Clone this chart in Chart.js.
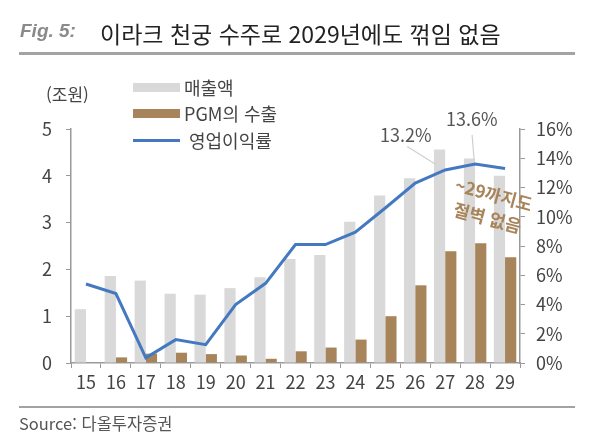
<!DOCTYPE html>
<html lang="ko">
<head>
  <meta charset="UTF-8">
  <title>이라크 천궁 수주로 2029년에도 꺾임 없음</title>
  <script src="https://cdn.jsdelivr.net/npm/chart.js"></script>
  <style>
    body { margin: 0; background: #fff; font-family: "Noto Sans CJK KR", "Noto Sans", sans-serif; color: #444; }
    #wrap { position: relative; width: 600px; height: 443px; overflow: hidden; }
    #grafico { position: absolute; left: 0; top: 0; }
    .txt { position: absolute; white-space: nowrap; }
    #fig { left: 20px; top: 20px; font-family: "Liberation Sans", Arial, sans-serif; font-style: italic; font-weight: bold; font-size: 19px; color: #8a8a8a; }
    #titulo { left: 100px; top: 16px; font-size: 23px; color: #222; }
    #regla1 { position: absolute; left: 19px; top: 52px; width: 556px; height: 3px; background: #a3a3a3; }
    #regla2 { position: absolute; left: 19px; top: 406px; width: 556px; height: 2px; background: #a3a3a3; }
    #fuente { left: 19px; top: 411px; font-size: 16.5px; color: #555; }
    #unidad { left: 46px; top: 81px; font-size: 17px; color: #444; }
    .ley { position: absolute; font-size: 18px; color: #444; }
    .caja { position: absolute; width: 47px; height: 9px; }
    .etq { position: absolute; font-size: 18px; color: #555; }
    #nota { left: 451px; top: 182px; font-size: 17.5px; font-weight: bold; color: #a8845a; line-height: 24px; text-align: center; transform: rotate(15deg); transform-origin: center; }
  </style>
</head>
<body>
<div id="wrap">
  <canvas id="grafico" width="600" height="443"></canvas>

  <div class="txt" id="fig">Fig. 5:</div>
  <div class="txt" id="titulo">이라크 천궁 수주로 2029년에도 꺾임 없음</div>
  <div id="regla1"></div>

  <div class="txt" id="unidad">(조원)</div>

  <!-- leyenda -->
  <div class="caja" style="left:133px; top:83px; background:#d9d9d9;"></div>
  <div class="ley txt" style="left:184px; top:74px;">매출액</div>
  <div class="caja" style="left:133px; top:109px; background:#a8845a;"></div>
  <div class="ley txt" style="left:184px; top:100px;">PGM의 수출</div>
  <div class="caja" style="left:133px; top:139px; height:3px; background:#4479c1;"></div>
  <div class="ley txt" style="left:189px; top:127px;">영업이익률</div>

  <div class="txt etq" style="left:380px; top:121px;">13.2%</div>
  <div class="txt etq" style="left:446px; top:105px;">13.6%</div>
  <div class="txt" id="nota">~29까지도<br>절벽 없음</div>

  <div id="regla2"></div>
  <div class="txt" id="fuente">Source: 다올투자증권</div>
</div>

<script>
  // Datos
  const anios = ['15','16','17','18','19','20','21','22','23','24','25','26','27','28','29'];
  const ventas = [1.15, 1.86, 1.76, 1.48, 1.46, 1.60, 1.83, 2.22, 2.31, 3.02, 3.58, 3.95, 4.56, 4.37, 4.00];
  const pgm = [0, 0.12, 0.20, 0.22, 0.19, 0.16, 0.09, 0.25, 0.33, 0.50, 1.00, 1.66, 2.39, 2.56, 2.26];
  const margen = [5.4, 4.75, 0.35, 1.6, 1.25, 4.0, 5.45, 8.1, 8.1, 8.95, 10.6, 12.3, 13.2, 13.6, 13.3];
  const ticksIzq = [0, 1, 2, 3, 4, 5];
  const ticksDer = [0, 2, 4, 6, 8, 10, 12, 14, 16];

  // líneas guía de las etiquetas 13.2% / 13.6%
  const guias = {
    id: 'guias',
    afterDatasetsDraw(chart) {
      const { ctx, scales } = chart;
      const x = scales.x, y = scales.yDer;
      ctx.save();
      ctx.strokeStyle = '#cfcfcf';
      ctx.lineWidth = 1.2;
      ctx.beginPath();
      ctx.moveTo(x.getPixelForValue(12) - 38, y.getPixelForValue(14.8));
      ctx.lineTo(x.getPixelForValue(12) - 10, y.getPixelForValue(13.6));
      ctx.moveTo(x.getPixelForValue(13) - 3, y.getPixelForValue(15.6));
      ctx.lineTo(x.getPixelForValue(13) - 1, y.getPixelForValue(13.9));
      ctx.stroke();
      ctx.restore();
    }
  };

  const fuenteTick = { family: '"Noto Sans CJK KR", "Noto Sans", sans-serif', size: 18 };

  const ctx = document.getElementById('grafico').getContext('2d');
  const grafico = new Chart(ctx, {
    type: 'bar',
    data: {
      labels: anios,
      datasets: [
        { type: 'line', label: '영업이익률', data: margen, yAxisID: 'yDer', borderColor: '#4479c1', borderWidth: 3, pointRadius: 0, tension: 0, order: 0 },
        { label: '매출액', data: ventas, yAxisID: 'yIzq', backgroundColor: '#d9d9d9', order: 1 },
        { label: 'PGM의 수출', data: pgm, yAxisID: 'yIzq', backgroundColor: '#a8845a', order: 2 }
      ]
    },
    options: {
      responsive: false,
      animation: false,
      layout: { padding: { top: 129, left: 0, right: 0, bottom: 0 } },
      plugins: { legend: { display: false }, tooltip: { enabled: false } },
      datasets: { bar: { categoryPercentage: 0.75, barPercentage: 1.0 } },
      scales: {
        x: {
          grid: { display: true, drawOnChartArea: false, drawTicks: true, tickLength: 5, color: '#999', offset: true },
          border: { display: true, color: '#999', width: 1.5 },
          ticks: { color: '#444', font: fuenteTick, padding: 3, maxRotation: 0, autoSkip: false },
          afterFit(s) { s.height = 80; }
        },
        yIzq: {
          position: 'left',
          min: 0, max: 5,
          afterBuildTicks(s) { s.ticks = ticksIzq.map(v => ({ value: v })); },
          grid: { drawOnChartArea: false, drawTicks: true, tickLength: 5, color: '#999' },
          border: { display: true, color: '#999', width: 1.5 },
          ticks: { color: '#444', font: fuenteTick, padding: 14 },
          afterFit(s) { s.width = 71; }
        },
        yDer: {
          position: 'right',
          min: 0, max: 16,
          afterBuildTicks(s) { s.ticks = ticksDer.map(v => ({ value: v })); },
          grid: { drawOnChartArea: false, drawTicks: true, tickLength: 5, color: '#999' },
          border: { display: true, color: '#999', width: 1.5 },
          ticks: { color: '#444', font: fuenteTick, padding: 11, callback: v => v + '%' },
          afterFit(s) { s.width = 80; }
        }
      }
    },
    plugins: [guias]
  });
</script>
</body>
</html>
